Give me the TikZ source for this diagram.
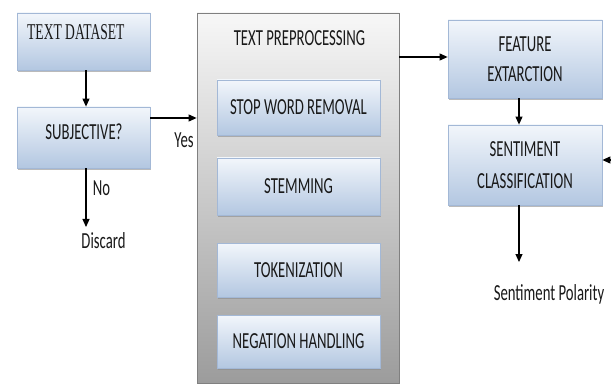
\documentclass[tikz,border=0pt]{standalone}
\usepackage{fontspec}
\setmainfont{Carlito}[FakeStretch=0.64]
\newfontfamily\serifc{Liberation Serif}[FakeStretch=0.6]
\usetikzlibrary{arrows.meta,shadows}
\definecolor{bxtop}{HTML}{F2F6FB}
\definecolor{bxbot}{HTML}{B3C7E1}
\definecolor{bxline}{HTML}{A3B8D6}
\definecolor{grtop}{HTML}{F7F7F7}
\definecolor{grbot}{HTML}{9C9C9C}
\begin{document}
\begin{tikzpicture}[x=1pt,y=-1pt,
  every node/.style={font=\fontsize{23}{26}\selectfont, text=black!90},
  bluebox/.style={draw=bxline, line width=0.8pt, top color=bxtop, bottom color=bxbot, inner sep=0pt,
    drop shadow={shadow xshift=1.2pt, shadow yshift=-2.2pt, fill=black!45, opacity=0.6}},
  innerbox/.style={bluebox, minimum width=163pt},
  bigbox/.style={draw=black!50, line width=0.8pt, top color=grtop, bottom color=grbot, inner sep=0pt},
  arr/.style={draw=black, line width=1.1pt, -{Triangle[length=8pt,width=7pt]}},
  lbl/.style={inner sep=0pt}
]
\useasboundingbox (0,0) rectangle (611,385);
\fill[white] (0,0) rectangle (611,385);

% left column
\node[bluebox, minimum width=133pt, minimum height=57pt] (ds) at (83.5,41.5) {};
\node[lbl, anchor=west, font=\serifc\fontsize{22.6}{26}\selectfont] (dstext) at (27,32.5) {TEXT DATASET};
\node[bluebox, minimum width=133pt, minimum height=61pt] (subj) at (83.5,137.5) {};
\node[lbl] (subjtext) at (84,131.5) {SUBJECTIVE?};

% big preprocessing box
\node[bigbox, minimum width=202pt, minimum height=370pt] (pre) at (298,198) {};
\node[lbl] (pretitle) at (299.5,38.5) {TEXT PREPROCESSING};
\node[innerbox, minimum height=55pt] (stop) at (298.5,107.5) {STOP WORD REMOVAL};
\node[innerbox, minimum height=57pt] (stem) at (298.5,186.5) {STEMMING};
\node[innerbox, minimum height=54pt] (tok) at (298.5,270) {TOKENIZATION};
\node[innerbox, minimum height=53pt] (neg) at (298.5,341.5) {NEGATION HANDLING};

% right column
\node[bluebox, minimum width=154pt, minimum height=78pt, align=center] (feat) at (525,59) {FEATURE\\[4pt]EXTARCTION};
\node[bluebox, minimum width=154pt, minimum height=80pt, align=center] (sent) at (525,165) {SENTIMENT\\[6pt]CLASSIFICATION};
\node[lbl] (pol) at (549,294) {Sentiment Polarity};

% labels
\node[lbl] (yes) at (184,140) {Yes};
\node[lbl] (no) at (101.5,188.5) {No};
\node[lbl] (disc) at (103.5,240.5) {Discard};

% connectors
\draw[arr] (ds.south -| 86,0) -- (subj.north -| 86,0);
\coordinate (yesA) at ([yshift=19.5pt]subj.east);
\draw[arr] (yesA) -- (yesA -| pre.west);
\coordinate (noTip) at (86,227);
\draw[arr] (subj.south -| noTip) -- (noTip);
\draw[arr] (pre.east |- 0,57) -- (feat.west |- 0,57);
\draw[arr] (feat.south -| 519,0) -- (sent.north -| 519,0);
\coordinate (polTip) at (519,262);
\draw[arr] (sent.south -| polTip) -- (polTip);
\coordinate (edgeR) at (611,160);
\draw[arr] (edgeR) -- (edgeR -| sent.east);
\end{tikzpicture}
\end{document}
